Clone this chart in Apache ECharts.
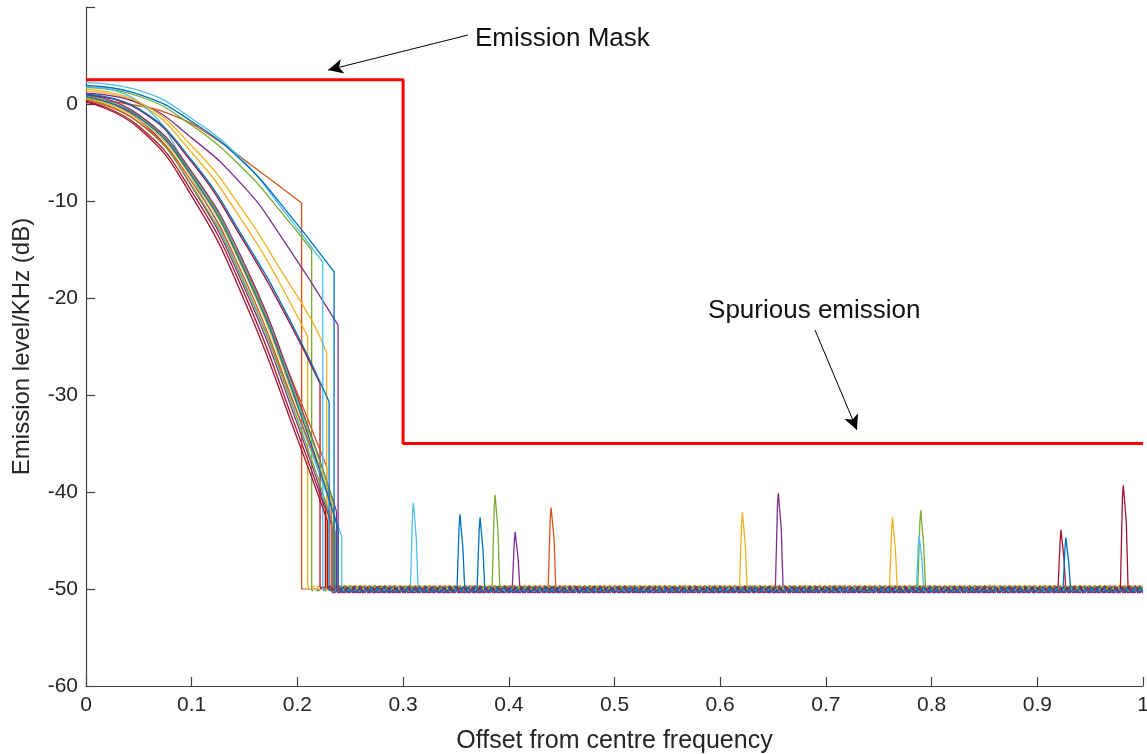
<!DOCTYPE html>
<html>
<head>
<meta charset="utf-8">
<script src="https://cdn.jsdelivr.net/npm/echarts/dist/echarts.min.js"></script>
<style>html,body{margin:0;padding:0;background:#fff}#c{width:1147px;height:754px}</style>
</head>
<body>
<div id="c"></div>
<script>
// ---------- tick labels ----------
const xTickLabels = ['0','0.1','0.2','0.3','0.4','0.5','0.6','0.7','0.8','0.9','1'];
const yTickLabels = ['-60','-50','-40','-30','-20','-10','0',''];

// ---------- emission mask ----------
const maskLine = [[0,2.5],[0.3,2.5],[0.3,-35],[1,-35]];

// ---------- roll-off curves (x, dB) ----------
const roUpperLightBlue = [[0,2.2],[0.05,1.4],[0.1,-1.5],[0.15,-6.0],[0.1835,-10.5],[0.224,-16.3]];
const roUpperBlue      = [[0,1.9],[0.05,1.0],[0.1,-1.8],[0.15,-6.1],[0.1835,-10.2],[0.2347,-17.3]];
const roUpperGreen     = [[0,1.7],[0.05,0.8],[0.1,-2.2],[0.15,-6.8],[0.1835,-11.0],[0.2135,-15.05]];
const roUpperOrange    = [[0,0.5],[0.04,0.0],[0.083,-1.2],[0.12,-3.4],[0.16,-6.6],[0.204,-10.2]];
const roUpperPurple    = [[0,1.1],[0.05,0.1],[0.1,-3.5],[0.15,-8.6],[0.1835,-13.5],[0.2385,-22.8]];
const roUpperYellowB   = [[0,1.5],[0.05,0.2],[0.1,-4.3],[0.15,-11.2],[0.1835,-17.0],[0.2135,-22.3],[0.2277,-25.7]];
const roUpperYellowA   = [[0,1.3],[0.05,0.0],[0.1,-5.0],[0.15,-12.4],[0.1835,-18.5],[0.2097,-24.0]];
const roMidBlue        = [[0,1.0],[0.05,-0.5],[0.1,-5.8],[0.15,-14.0],[0.193,-22.3],[0.230,-30.7]];
const roMidRed         = [[0,0.9],[0.05,-0.6],[0.1,-6.0],[0.15,-14.3],[0.19,-22.0],[0.2214,-28.8]];
const roMidOrange      = [[0,0.6],[0.05,-1.2],[0.1,-7.0],[0.15,-16.8],[0.1835,-25.4],[0.2277,-37.4]];
const roLowRedA        = [[0,0.2],[0.05,-2.5],[0.1,-9.5],[0.15,-20.3],[0.2,-34.5],[0.2285,-43.0]];
const roLowRedB        = [[0,0.3],[0.05,-2.3],[0.1,-9.0],[0.15,-19.6],[0.2,-33.8],[0.2265,-41.8]];
const roLowPurpleA     = [[0,0.9],[0.05,-1.6],[0.1,-8.5],[0.15,-19.0],[0.2,-33.0],[0.233,-43.6]];
const roLowPurpleB     = [[0,1.0],[0.05,-1.1],[0.1,-7.0],[0.15,-16.5],[0.2,-30.2],[0.237,-42.0]];
const roLowGreenA      = [[0,0.5],[0.05,-1.9],[0.1,-8.4],[0.15,-18.6],[0.2,-32.5],[0.236,-44.2]];
const roLowGreenB      = [[0,0.8],[0.05,-1.3],[0.1,-7.2],[0.15,-16.9],[0.2,-30.6],[0.2345,-41.0]];
const roLowLightBlue   = [[0,1.8],[0.05,0.2],[0.1,-7.6],[0.15,-18.4],[0.2,-32.0],[0.242,-44.6]];
const roLowOrange      = [[0,0.4],[0.05,-1.9],[0.1,-8.0],[0.15,-18.0],[0.2,-31.8],[0.232,-40.8]];
const roLowBlue        = [[0,0.7],[0.05,-1.4],[0.1,-7.4],[0.15,-17.2],[0.2,-31.0],[0.2385,-43.8]];
const roLowYellow      = [[0,0.6],[0.05,-1.6],[0.1,-7.6],[0.15,-17.4],[0.2,-31.2],[0.234,-41.5]];

// ---------- spurious peaks (x, dB) ----------
const spurLightBlueA = [[0.3069,-50],[0.3089,-42.3],[0.3097,-41.1],[0.3125,-44.8],[0.3142,-50]];
const spurBlueA      = [[0.3510,-50],[0.3530,-43.5],[0.3538,-42.3],[0.3566,-45.8],[0.3583,-50]];
const spurBlueB      = [[0.3700,-50],[0.3720,-43.8],[0.3728,-42.6],[0.3756,-46.0],[0.3773,-50]];
const spurGreenA     = [[0.3842,-50],[0.3862,-41.5],[0.3870,-40.3],[0.3898,-44.0],[0.3915,-50]];
const spurPurpleA    = [[0.4032,-50],[0.4052,-45.2],[0.4060,-44.1],[0.4088,-46.8],[0.4105,-50]];
const spurOrangeA    = [[0.4372,-50],[0.4392,-42.8],[0.4400,-41.6],[0.4428,-44.8],[0.4445,-50]];
const spurYellowA    = [[0.6182,-50],[0.6202,-43.3],[0.6210,-42.1],[0.6238,-45.5],[0.6255,-50]];
const spurPurpleB    = [[0.6522,-50],[0.6542,-41.3],[0.6550,-40.1],[0.6578,-43.8],[0.6595,-50]];
const spurYellowB    = [[0.7602,-50],[0.7622,-43.8],[0.7630,-42.6],[0.7658,-46.0],[0.7675,-50]];
const spurGreenB     = [[0.7869,-50],[0.7889,-43.1],[0.7897,-41.9],[0.7925,-45.4],[0.7942,-50]];
const spurLightBlueB = [[0.7857,-50],[0.7874,-45.5],[0.7882,-44.5],[0.7908,-47.0],[0.7925,-50]];
const spurRedA       = [[0.9196,-50],[0.9216,-45.0],[0.9224,-43.9],[0.9252,-46.8],[0.9269,-50]];
const spurBlueC      = [[0.9244,-50],[0.9262,-45.8],[0.9270,-44.7],[0.9297,-47.2],[0.9314,-50]];
const spurRedB       = [[0.9786,-50],[0.9806,-40.5],[0.9814,-39.3],[0.9842,-43.1],[0.9859,-50]];

// ---------- noise-floor level of each trace (dB) ----------
const floorLevels = [-50.0,-49.75,-50.15,-50.3,-49.85,-50.2,-49.7,-50.05,-50.35,-49.9,
                     -50.1,-49.8,-50.25,-49.95,-50.3,-49.75,-50.1,-49.9,-50.2,-50.0];

// ---------- colours ----------
const C = {blue:'#0072BD', orange:'#D95319', yellow:'#EDB120', purple:'#7E2F8E',
           green:'#77AC30', lightblue:'#4DBEEE', red:'#A2142F'};

// trace list: [curve, colour, spur]
const traces = [
  [roUpperOrange, C.orange, spurOrangeA],
  [roUpperYellowA, C.yellow, spurYellowB],
  [roUpperGreen, C.green, spurGreenB],
  [roLowLightBlue, C.lightblue, spurLightBlueB],
  [roMidRed, C.red, spurRedA],
  [roUpperPurple, C.purple, spurPurpleB],
  [roMidOrange, C.orange, null],
  [roUpperYellowB, C.yellow, spurYellowA],
  [roLowPurpleA, C.purple, spurPurpleA],
  [roLowGreenA, C.green, spurGreenA],
  [roUpperLightBlue, C.lightblue, spurLightBlueA],
  [roLowRedB, C.red, null],
  [roLowOrange, C.orange, null],
  [roLowYellow, C.yellow, null],
  [roLowPurpleB, C.purple, null],
  [roLowGreenB, C.green, null],
  [roMidBlue, C.blue, spurBlueB],
  [roLowBlue, C.blue, spurBlueC],
  [roUpperBlue, C.blue, spurBlueA],
  [roLowRedA, C.red, spurRedB]
];

const FONT = "'Liberation Sans', Arial, Helvetica, sans-serif";
const W = 1.3;
const series = [];
traces.forEach((t, i) => {
  const curve = t[0], col = t[1], spur = t[2];
  const end = curve[curve.length - 1];
  const lvl = floorLevels[i];
  const base = {type:'line', showSymbol:false, silent:true, itemStyle:{color: col}, z: 2};
  // roll-off
  series.push(Object.assign({}, base, {data: curve, smooth: 0.5,
    lineStyle:{color: col, width: W}}));
  // vertical drop to the floor
  series.push(Object.assign({}, base, {data: [[end[0], end[1]], [end[0], lvl]],
    lineStyle:{color: col, width: W}}));
  // noise floor (drawn broken so that the traces mix like the measured band)
  series.push(Object.assign({}, base, {data: [[end[0], lvl], [1, lvl]],
    lineStyle:{color: col, width: 1.7, type:[2 + (i % 3), 1 + (i % 4)], dashOffset: i * 1.3}}));
  // spur
  if (spur) series.push(Object.assign({}, base, {data: spur, lineStyle:{color: col, width: W}}));
});

// annotations (data coordinates)
const noteTexts = ['Emission Mask', 'Spurious emission'];
const noteTextAt = [[0.368, 6.6], [0.5885, -21.4]];
const noteArrowFrom = [[0.3614, 7.11], [0.6897, -23.3]];
const noteArrowTo = [[0.229, 3.5], [0.7294, -33.6]];

series.push({type:'line', data: maskLine, showSymbol:false, lineStyle:{color:'#FF0000', width:3},
  itemStyle:{color:'#FF0000'}, z: 5, silent:true,
  markLine: {silent:true, animation:false, symbol:['none','arrow'], symbolSize:[11,15],
    lineStyle:{color:'#000', width:1, type:'solid'}, label:{show:false},
    data: noteArrowFrom.map((f, k) => [{coord: f}, {coord: noteArrowTo[k]}])}
});

const chart = echarts.init(document.getElementById('c'), null, {renderer:'canvas'});
chart.setOption({
  animation:false,
  backgroundColor:'#fff',
  grid:{left:86, right:4, top:7, bottom:68, containLabel:false, outerBoundsMode:'none'},
  xAxis:{type:'value', min:0, max:1, interval:0.1,
    name:'Offset from centre frequency', nameLocation:'middle', nameGap:43,
    nameTextStyle:{fontFamily:FONT, fontSize:25, color:'#262626'},
    axisLine:{show:true, onZero:false, lineStyle:{color:'#404040', width:1.2}},
    axisTick:{show:true, inside:true, length:9, lineStyle:{color:'#404040', width:1.2}},
    axisLabel:{fontFamily:FONT, fontSize:21, color:'#262626', margin:9,
      formatter: v => xTickLabels[Math.round(v*10)]},
    splitLine:{show:false}},
  yAxis:{type:'value', min:-60, max:10, interval:10,
    name:'Emission level/KHz (dB)', nameLocation:'middle', nameGap:52, nameRotate:90,
    nameTextStyle:{fontFamily:FONT, fontSize:24, color:'#262626'},
    axisLine:{show:true, onZero:false, lineStyle:{color:'#404040', width:1.2}},
    axisTick:{show:true, inside:true, length:9, lineStyle:{color:'#404040', width:1.2}},
    axisLabel:{fontFamily:FONT, fontSize:21, color:'#262626', margin:8,
      formatter: v => yTickLabels[Math.round((v+60)/10)]},
    splitLine:{show:false}},
  series: series
});

const g = noteTexts.map((txt, k) => {
  const p = chart.convertToPixel({gridIndex:0}, noteTextAt[k]);
  return {type:'text', left:p[0], top:p[1]-14, silent:true,
    style:{text:txt, fontFamily:FONT, fontSize:26, fill:'#111'}};
});
chart.setOption({graphic: g});
</script>
</body>
</html>
